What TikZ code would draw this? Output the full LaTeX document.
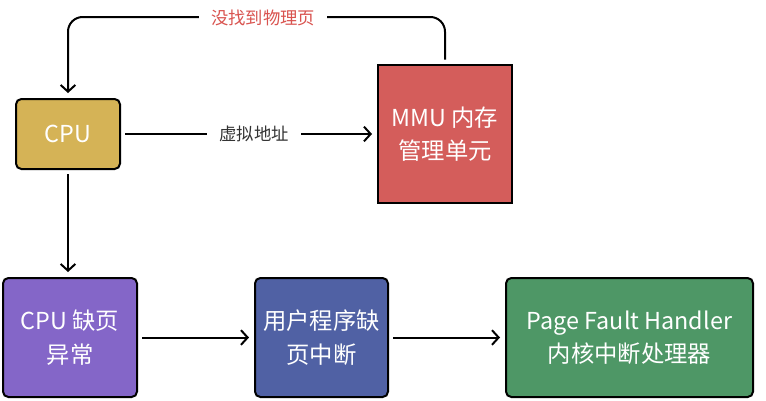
\documentclass[tikz,border=0pt]{standalone}
\usepackage{fontspec}
\setmainfont{Noto Sans CJK SC}
\usetikzlibrary{arrows.meta}
\definecolor{cpugold}{HTML}{D5B356}
\definecolor{mmured}{HTML}{D45D5B}
\definecolor{faultpurple}{HTML}{8466C8}
\definecolor{userblue}{HTML}{5061A4}
\definecolor{handlergreen}{HTML}{4E9766}
\definecolor{labelred}{HTML}{D9534F}
\definecolor{labelgray}{HTML}{333333}

\tikzset{
	box/.style={draw=black, line width=1.5pt, text=white, align=center, inner sep=0pt, font=\fontsize{17.5}{25}\selectfont},
	rbox/.style={box, rounded corners=4pt},
	conn/.style={line width=1.5pt, -{Straight Barb[length=5pt,width=11pt]}, shorten >=3.75pt, shorten <=3.25pt},
	lbl/.style={fill=white, inner xsep=9pt, inner ysep=2pt, font=\fontsize{13}{15}\selectfont}
}

\begin{document}
\begin{tikzpicture}[x=0.75pt, y=-0.75pt]
	\useasboundingbox (0,0) rectangle (766,400);

	\node[rbox, fill=cpugold, minimum width=78pt, minimum height=52.5pt] (cpu) at (68,134) {CPU};
	\node[box, fill=mmured, minimum width=100.5pt, minimum height=103.5pt] (mmu) at (445,134) {MMU 内存\\管理单元};

	\node[rbox, fill=faultpurple, minimum width=100.5pt, minimum height=89.25pt] (fault) at (70,337.5) {CPU 缺页\\异常};
	\node[rbox, fill=userblue, minimum width=99.75pt, minimum height=89.25pt] (user) at (321.5,337.5) {用户程序缺\\页中断};
	\node[rbox, fill=handlergreen, minimum width=185.25pt, minimum height=89.25pt] (handler) at (629.5,337.5) {Page Fault Handler\\内核中断处理器};

	\coordinate (back) at (255,17);

	\draw[conn] (cpu) -- node[lbl, text=labelgray, pos=0.52] (vaddr) {虚拟地址} (mmu);
	\draw[conn, rounded corners=11pt] (mmu.north) |- (back) -| (cpu.north);
	\node[lbl, text=labelred] (miss) at (263,18) {没找到物理页};

	\draw[conn] (cpu.south) -- (cpu.south |- fault.north);
	\draw[conn] (fault) -- (user);
	\draw[conn] (user) -- (handler);
\end{tikzpicture}
\end{document}
